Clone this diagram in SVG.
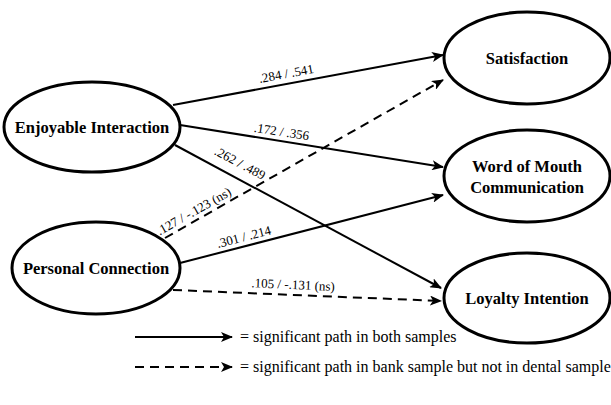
<svg xmlns="http://www.w3.org/2000/svg" width="611" height="405" viewBox="0 0 611 405">
<defs>
<style>
.node ellipse{fill:#fff;stroke:#000;stroke-width:3}
.node text{font-family:'Liberation Serif','Times New Roman','DejaVu Serif',serif;font-weight:bold;font-size:16.5px;text-anchor:middle;fill:#000}
.edge{fill:none;stroke:#000;stroke-width:2}
.dash{stroke-dasharray:9 6}
.lbl{font-family:'Liberation Serif','Times New Roman','DejaVu Serif',serif;font-size:13px;fill:#000;text-anchor:middle}
.leg{font-family:'Liberation Serif','Times New Roman','DejaVu Serif',serif;font-size:16px;fill:#000}
</style>
<marker id="ah" viewBox="0 0 12 10" refX="11" refY="5" markerWidth="12" markerHeight="10" markerUnits="userSpaceOnUse" orient="auto">
<path d="M0,0 L12,5 L0,10 L3,5 Z" fill="#000"/>
</marker>
</defs>
<rect width="611" height="405" fill="#fff"/>
<g id="connectors">
<line class="edge" x1="173" y1="105" x2="443" y2="55" marker-end="url(#ah)"/>
<line class="edge" x1="180" y1="125" x2="443" y2="167" marker-end="url(#ah)"/>
<line class="edge" x1="175" y1="145" x2="441" y2="288" marker-end="url(#ah)"/>
<line class="edge dash" x1="165" y1="238" x2="443" y2="80" marker-end="url(#ah)"/>
<line class="edge" x1="180" y1="263" x2="443" y2="195" marker-end="url(#ah)"/>
<line class="edge dash" x1="173" y1="290" x2="441" y2="301" marker-end="url(#ah)"/>
<text class="lbl" transform="translate(287,78) rotate(-10.5)">.284 / .541</text>
<text class="lbl" transform="translate(281,136) rotate(9)">.172 / .356</text>
<text class="lbl" transform="translate(238,167) rotate(28)">.262 / .489</text>
<text class="lbl" transform="translate(196,215) rotate(-29.5)">.127 / -.123 (ns)</text>
<text class="lbl" transform="translate(245,241) rotate(-14.5)">.301 / .214</text>
<text class="lbl" transform="translate(293,289) rotate(2.5)">.105 / -.131 (ns)</text>
</g>
<g id="enjoyable-interaction" class="node">
<ellipse cx="92" cy="127" rx="88" ry="45"/>
<text x="92" y="133">Enjoyable Interaction</text>
</g>
<g id="personal-connection" class="node">
<ellipse cx="96" cy="268" rx="84" ry="46"/>
<text x="96" y="274">Personal Connection</text>
</g>
<g id="satisfaction" class="node">
<ellipse cx="527" cy="58" rx="83" ry="46"/>
<text x="527" y="64">Satisfaction</text>
</g>
<g id="word-of-mouth" class="node">
<ellipse cx="527" cy="176" rx="83" ry="46"/>
<text x="527" y="172">Word of Mouth</text>
<text x="527" y="193">Communication</text>
</g>
<g id="loyalty-intention" class="node">
<ellipse cx="527" cy="298" rx="83" ry="45"/>
<text x="527" y="304">Loyalty Intention</text>
</g>
<g id="legend">
<line class="edge" x1="135" y1="337" x2="232" y2="337" marker-end="url(#ah)"/>
<line class="edge dash" x1="135" y1="367" x2="232" y2="367" marker-end="url(#ah)"/>
<text class="leg" x="240" y="342">= significant path in both samples</text>
<text class="leg" x="240" y="372">= significant path in bank sample but not in dental sample</text>
</g>
</svg>
